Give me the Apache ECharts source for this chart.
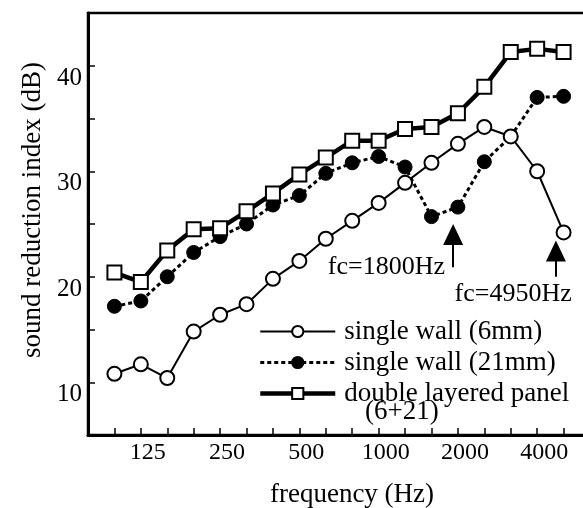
<!DOCTYPE html>
<html>
<head>
<meta charset="utf-8">
<script src="https://cdn.jsdelivr.net/npm/echarts@6/dist/echarts.min.js"></script>
<style>
	html, body { margin: 0; padding: 0; background: #fff; }
	#chart { width: 583px; height: 508px; }
</style>
</head>
<body>
<div id="chart"></div>
<script>
// 1/3 octave bands
var freqs = ['100','125','160','200','250','315','400','500','630','800','1000','1250','1600','2000','2500','3150','4000','5000'];
var labelFreqs = ['125','250','500','1000','2000','4000'];

var wall6  = [10.8, 11.7, 10.4, 14.8, 16.4, 17.4, 19.8, 21.5, 23.6, 25.3, 27.0, 28.9, 30.8, 32.6, 34.2, 33.3, 30.0, 24.2];
var wall21 = [17.2, 17.7, 20.0, 22.3, 23.8, 25.0, 26.8, 27.7, 29.8, 30.8, 31.4, 30.4, 25.7, 26.6, 30.9, 33.3, 37.0, 37.1];
var dbl    = [20.4, 19.5, 22.5, 24.5, 24.6, 26.2, 27.9, 29.7, 31.3, 32.9, 32.9, 34.0, 34.2, 35.5, 38.0, 41.3, 41.6, 41.3];

var names = ['single wall (6mm)', 'single wall (21mm)', 'double layered panel'];

function pairs(arr){
	return arr.map(function(v, i){ return [i, v]; });
}

var font = 'Liberation Serif';

var myChart = echarts.init(document.getElementById('chart'));
var option = {
	backgroundColor: '#fff',
	animation: false,
	textStyle: { fontFamily: font, color: '#000' },
	grid: {
		left: 88, right: -7, top: 13, bottom: 73,
		outerBoundsMode: 'none',
		show: true, borderColor: '#000', borderWidth: 2.5, backgroundColor: '#fff'
	},
	legend: {
		orient: 'vertical',
		left: 253,
		top: 311,
		height: 300,
		itemWidth: 75,
		itemHeight: 14,
		itemGap: 0,
		textStyle: { fontFamily: font, fontSize: 27, color: '#000', lineHeight: 31, padding: [0, 0, 0, 4] },
		data: [
			{ name: names[0], lineStyle: { width: 2 } },
			{ name: names[1], lineStyle: { width: 3 } },
			{ name: names[2], lineStyle: { width: 4.5 } }
		]
	},
	// second line of the third legend entry
	graphic: [
		{ type: 'text', left: 365, top: 398, z: 100,
			style: { text: '(6+21)', font: '27px "Liberation Serif"', fill: '#000' } }
	],
	xAxis: {
		type: 'value',
		min: -1, max: 18, interval: 1,
		name: 'frequency (Hz)',
		nameLocation: 'middle',
		nameGap: 46,
		nameTextStyle: { fontFamily: font, fontSize: 27, color: '#000', padding: [0, 0, 0, 26] },
		axisLine: { onZero: false, lineStyle: { color: '#000', width: 3 } },
		axisTick: { inside: true, length: 7, lineStyle: { color: '#000', width: 1.5 } },
		axisLabel: {
			fontFamily: font, fontSize: 24, color: '#000', margin: 6,
			padding: [0, 0, 0, 14],
			formatter: function(v){
				var f = freqs[v];
				return (f && labelFreqs.indexOf(f) >= 0) ? f : '';
			}
		},
		splitLine: { show: false }
	},
	yAxis: {
		type: 'value',
		min: 5, max: 45, interval: 5,
		name: 'sound reduction index (dB)',
		nameLocation: 'middle',
		nameGap: 34,
		nameTextStyle: { fontFamily: font, fontSize: 27, color: '#000', padding: [0, 0, 0, 28] },
		axisLine: { onZero: false, lineStyle: { color: '#000', width: 3 } },
		axisTick: { inside: true, length: 7, lineStyle: { color: '#000', width: 1.5 } },
		axisLabel: {
			fontFamily: font, fontSize: 25, color: '#000', margin: 6,
			verticalAlign: 'top',
			formatter: function(v){
				return (v % 10 === 0 && v >= 10 && v <= 40) ? v : '';
			}
		},
		splitLine: { show: false }
	},
	series: [
		{
			name: names[0], type: 'line', data: pairs(wall6),
			symbol: 'circle', symbolSize: 14,
			itemStyle: { color: '#fff', borderColor: '#000', borderWidth: 2 },
			lineStyle: { color: '#000', width: 2 },
			z: 3
		},
		{
			name: names[1], type: 'line', data: pairs(wall21),
			symbol: 'circle', symbolSize: 14,
			itemStyle: { color: '#000', borderColor: '#000', borderWidth: 1 },
			lineStyle: { color: '#000', width: 3, type: [4, 3] },
			z: 2
		},
		{
			name: names[2], type: 'line', data: pairs(dbl),
			symbol: 'rect', symbolSize: 14,
			itemStyle: { color: '#fff', borderColor: '#000', borderWidth: 2 },
			lineStyle: { color: '#000', width: 4.5 },
			z: 4,
			markLine: {
				silent: true,
				symbol: 'none',
				label: { show: false },
				lineStyle: { color: '#000', width: 2, type: 'solid' },
				data: [
					[{ coord: [12.82, 20.9] }, { coord: [12.82, 23.2] }],
					[{ coord: [16.71, 20.0] }, { coord: [16.71, 21.6] }]
				]
			},
			markPoint: {
				silent: true,
				label: { show: false },
				data: [
					{ coord: [12.82, 24.0], symbol: 'triangle', symbolSize: [20, 21], itemStyle: { color: '#000' } },
					{ coord: [16.71, 22.44], symbol: 'triangle', symbolSize: [20, 21], itemStyle: { color: '#000' } },
					{ coord: [12.51, 20.83], symbolSize: 1, itemStyle: { color: 'rgba(0,0,0,0)' },
						label: { show: true, position: 'inside', align: 'right', formatter: 'fc=1800Hz', fontFamily: font, fontSize: 26, color: '#000' } },
					{ coord: [15.09, 18.27], symbolSize: 1, itemStyle: { color: 'rgba(0,0,0,0)' },
						label: { show: true, position: 'inside', align: 'center', formatter: 'fc=4950Hz', fontFamily: font, fontSize: 26, color: '#000' } }
				]
			}
		}
	]
};
myChart.setOption(option);
</script>
</body>
</html>
